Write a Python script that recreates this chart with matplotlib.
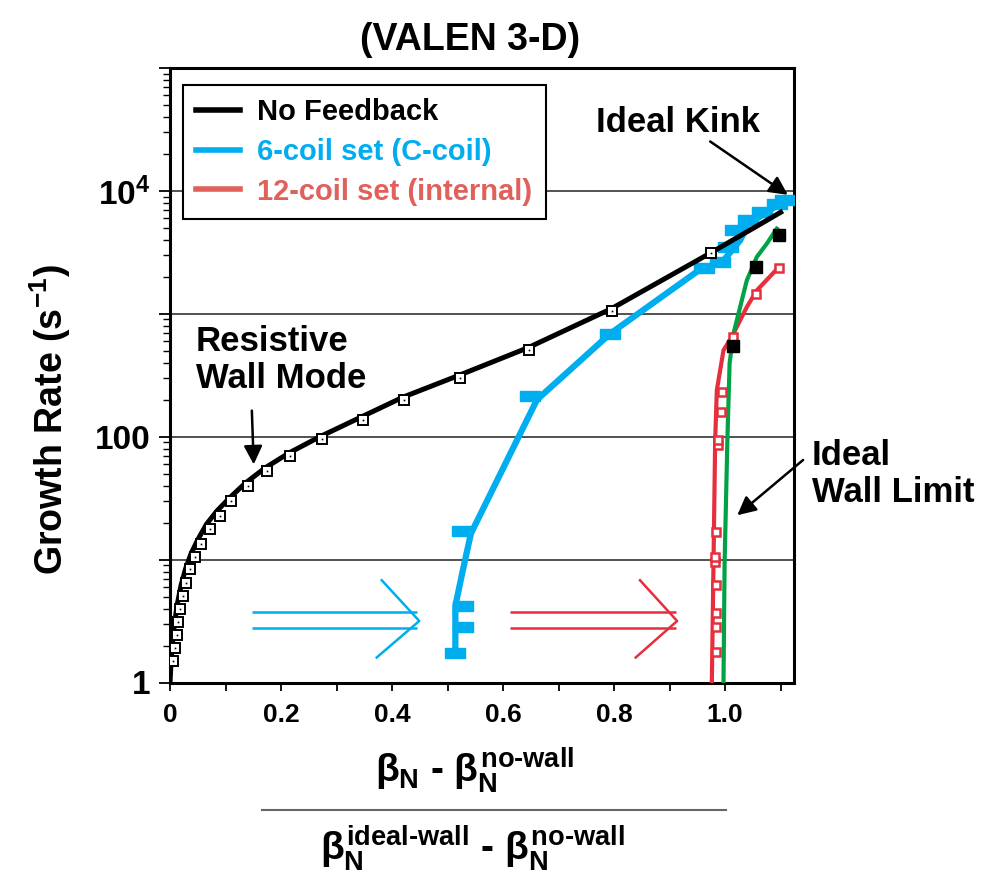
import matplotlib
matplotlib.use('Agg')
import matplotlib.pyplot as plt
import matplotlib.ticker as mticker
from matplotlib.path import Path
from matplotlib.lines import Line2D

# ---------------- data ----------------
# No feedback: computed growth rates (open squares) and fitted curve
nofb_pts_x = [0.006, 0.0095, 0.012, 0.015, 0.018, 0.024, 0.028, 0.0355, 0.045, 0.056,
              0.072, 0.0895, 0.110, 0.140, 0.175, 0.217, 0.273, 0.347, 0.422, 0.523,
              0.647, 0.797, 0.975]
nofb_pts_y = [1.50, 1.92, 2.45, 3.12, 3.98, 5.08, 6.47, 8.32, 10.5, 13.4,
              17.8, 22.7, 29.9, 39.8, 52.5, 69.4, 94.9, 136, 198, 299,
              505, 1048, 3120]
nofb_line_x = [0.000, 0.002, 0.004, 0.008, 0.013, 0.020, 0.028, 0.038, 0.050, 0.066,
               0.085, 0.108, 0.136, 0.172, 0.215, 0.270, 0.345, 0.420, 0.520, 0.645,
               0.795, 0.975, 1.100]
nofb_line_y = [1.0, 1.5, 2.0, 3.0, 4.3, 6.2, 8.4, 11.2, 14.5, 19.5,
               25, 32, 42, 56, 74, 100, 145, 210, 315, 530,
               1100, 3150, 6700]

# 6-coil set (C-coil)
c6_line_x = [0.514, 0.514, 0.527, 0.542, 0.661, 0.793, 0.955, 0.995, 1.027, 1.040, 1.108]
c6_line_y = [1.6, 4.2, 8.0, 16.3, 200, 690, 2300, 2650, 3960, 5300, 8370]
c6_pts_x = [0.514, 0.527, 0.527, 0.526, 0.649, 0.793, 0.961, 0.991, 1.006, 1.018,
            1.042, 1.066, 1.093, 1.108]
c6_pts_y = [1.73, 2.84, 4.19, 17.2, 213, 690, 2345, 2624, 3494, 4775,
            5754, 6725, 7870, 8370]

# 12-coil set (internal)
c12_line_x = [0.976, 0.979, 0.982, 0.985, 0.997, 1.012, 1.039, 1.057, 1.096]
c12_line_y = [1.0, 9.3, 94, 239, 505, 650, 1135, 1550, 2380]
c12_pts_x = [0.984, 0.984, 0.984, 0.984, 0.982, 0.982, 0.984, 0.988, 0.988, 0.993,
             0.995, 1.014, 1.056, 1.097]
c12_pts_y = [1.78, 2.84, 3.66, 6.2, 9.6, 10.5, 16.8, 85, 94, 159,
             231, 648, 1460, 2376]

# Ideal-wall limit curve and points
iw_line_x = [0.997, 0.999, 1.004, 1.008, 1.015, 1.024, 1.039, 1.057, 1.075, 1.093]
iw_line_y = [1.0, 9.4, 94, 396, 690, 1004, 1870, 2900, 3720, 4930]
iw_pts_x = [1.014, 1.056, 1.097]
iw_pts_y = [547, 2420, 4400]

legend_labels = ['No Feedback', '6-coil set (C-coil)', '12-coil set (internal)']
xtick_vals = [0.0, 0.2, 0.4, 0.6, 0.8, 1.0]
xtick_text = ['0', '0.2', '0.4', '0.6', '0.8', '1.0']
ytick_vals = [1, 10, 100, 1000, 1e4, 1e5]
ytick_text = ['1', '', '100', '', r'$\mathbf{10^{4}}$', '']

# ---------------- style ----------------
BLUE = '#00aeef'
RED = '#e62e3c'
SALMON = '#e0605c'
GREEN = '#00a245'
FONT = ['Liberation Sans', 'DejaVu Sans']

plt.rcParams['mathtext.fontset'] = 'custom'
plt.rcParams['mathtext.rm'] = 'Liberation Sans:bold'
plt.rcParams['mathtext.it'] = 'Liberation Sans:bold'
plt.rcParams['mathtext.bf'] = 'Liberation Sans:bold'
plt.rcParams['mathtext.sf'] = 'Liberation Sans:bold'

fig = plt.figure(figsize=(9.92, 8.82), dpi=100)
ax = fig.add_axes([170 / 992, 1 - 682.5 / 882, 624 / 992, 614.5 / 882])
ax.set_yscale('log')
ax.set_xlim(0, 1.124)
ax.set_ylim(1, 1e5)

for v in [10, 100, 1000, 1e4]:
    ax.axhline(v, color='#333333', lw=1.2, zorder=1)

# curves
ax.plot(c12_line_x, c12_line_y, color=RED, lw=3.0, zorder=3)
ax.plot(iw_line_x, iw_line_y, color=GREEN, lw=3.0, zorder=4)
ax.plot(c6_line_x, c6_line_y, color=BLUE, lw=4.5, zorder=5, solid_capstyle='butt')
rect = Path([(-1, -0.5), (1, -0.5), (1, 0.5), (-1, 0.5), (-1, -0.5)],
            [Path.MOVETO, Path.LINETO, Path.LINETO, Path.LINETO, Path.CLOSEPOLY])
ax.plot(c6_pts_x, c6_pts_y, ls='none', marker=rect, ms=14, mfc=BLUE, mec=BLUE, zorder=5)
ax.plot(nofb_line_x, nofb_line_y, color='black', lw=3.6, zorder=6)
ax.plot(nofb_pts_x, nofb_pts_y, ls='none', marker='s', ms=7, mfc='white', mec='black',
        mew=1.4, zorder=7)
ax.plot(nofb_pts_x, nofb_pts_y, ls='none', marker='s', ms=1.2, mfc='black', mec='black',
        mew=0, zorder=8)
ax.plot(c12_pts_x, c12_pts_y, ls='none', marker='s', ms=6, mfc='white', mec=RED,
        mew=1.8, zorder=7)
ax.plot(iw_pts_x, iw_pts_y, ls='none', marker='s', ms=8, mfc='black', mec='black', zorder=8)

# axes styling
for s in ax.spines.values():
    s.set_linewidth(2.2)
ax.set_xticks(xtick_vals, xtick_text, fontfamily=FONT, fontweight='bold', fontsize=19)
ax.xaxis.set_minor_locator(mticker.MultipleLocator(0.1))
ax.set_yticks(ytick_vals, ytick_text, fontfamily=FONT, fontweight='bold', fontsize=24)
ax.yaxis.set_minor_locator(mticker.LogLocator(base=10, subs=range(2, 10), numticks=20))
ax.yaxis.set_minor_formatter(mticker.NullFormatter())
ax.tick_params(axis='x', which='both', direction='out', length=6, width=1.3, pad=9)
ax.tick_params(axis='y', which='major', direction='out', length=8, width=1.3, pad=6)
ax.tick_params(axis='y', which='minor', direction='out', length=5, width=1.0)

# legend
handles = [Line2D([], [], color='black', lw=4),
           Line2D([], [], color=BLUE, lw=4),
           Line2D([], [], color=SALMON, lw=4)]
leg = ax.legend(handles, legend_labels, loc='upper left', bbox_to_anchor=(0.0208, 0.972),
                prop=dict(family=FONT, weight='bold', size=21), frameon=True,
                fancybox=False, edgecolor='black', framealpha=1, handlelength=1.5,
                handletextpad=0.6, borderpad=0.45, labelspacing=0.4, borderaxespad=0)
leg.get_frame().set_linewidth(1.5)
for t, c in zip(leg.get_texts(), ['black', BLUE, SALMON]):
    t.set_color(c)
leg.set_zorder(10)

# annotations
ax.text(0.814, 0.912, 'Ideal Kink', transform=ax.transAxes, ha='center', va='center',
        fontfamily=FONT, fontweight='bold', fontsize=25)
ax.annotate('', xy=(1.117, 9020), xycoords='data', xytext=(0.862, 0.883),
            textcoords='axes fraction',
            arrowprops=dict(arrowstyle='-|>', color='black', lw=1.8, mutation_scale=28))

ax.text(0.0417, 0.525, 'Resistive\nWall Mode', transform=ax.transAxes, ha='left',
        va='center', fontfamily=FONT, fontweight='bold', fontsize=25, linespacing=1.15)
ax.annotate('', xy=(0.151, 56.5), xycoords='data', xytext=(0.131, 0.447),
            textcoords='axes fraction',
            arrowprops=dict(arrowstyle='-|>', color='black', lw=1.8, mutation_scale=28))

ax.text(1.029, 0.339, 'Ideal\nWall Limit', transform=ax.transAxes, ha='left',
        va='center', fontfamily=FONT, fontweight='bold', fontsize=25, linespacing=1.15,
        clip_on=False)
ax.annotate('', xy=(1.018, 22.2), xycoords='data', xytext=(1.018, 0.365),
            textcoords='axes fraction', annotation_clip=False,
            arrowprops=dict(arrowstyle='-|>', color='black', lw=1.8, mutation_scale=28))

# open double arrows showing the feedback gain
def double_arrow(x0, x1, tip, back, color):
    for yy in (0.1142, 0.0882):
        ax.plot([x0, x1], [yy, yy], color=color, lw=1.8, transform=ax.transAxes,
                zorder=4, solid_capstyle='butt')
    ax.plot([back[0], tip, back[1]], [0.1664, 0.1001, 0.0407], color=color, lw=1.8,
            transform=ax.transAxes, zorder=4)

double_arrow(0.1319, 0.3954, 0.3995, (0.3393, 0.3312), BLUE)
double_arrow(0.5455, 0.8106, 0.8127, (0.7532, 0.7463), RED)

# title and axis labels
fig.text(470 / 992, 1 - 40 / 882, '(VALEN 3-D)', ha='center', va='center',
         fontfamily=FONT, fontweight='bold', fontsize=27)
fig.text(50 / 992, 1 - 420 / 882, r'Growth Rate (s$^{\mathbf{-1}}$)', rotation=90,
         ha='center', va='center', fontfamily=FONT, fontweight='bold', fontsize=27)
fig.text(475 / 992, 1 - 770 / 882, r'$\beta_{N}$ - $\beta_{N}^{no‐wall}$',
         ha='center', va='center', fontsize=28, fontfamily=FONT, fontweight='bold')
fig.add_artist(Line2D([262 / 992, 726 / 992], [1 - 810 / 882, 1 - 810 / 882],
                      color='#666666', lw=1.5))
fig.text(472 / 992, 1 - 848 / 882, r'$\beta_{N}^{ideal‐wall}$ - $\beta_{N}^{no‐wall}$',
         ha='center', va='center', fontsize=28, fontfamily=FONT, fontweight='bold')

fig.savefig('out.png', dpi=100)
